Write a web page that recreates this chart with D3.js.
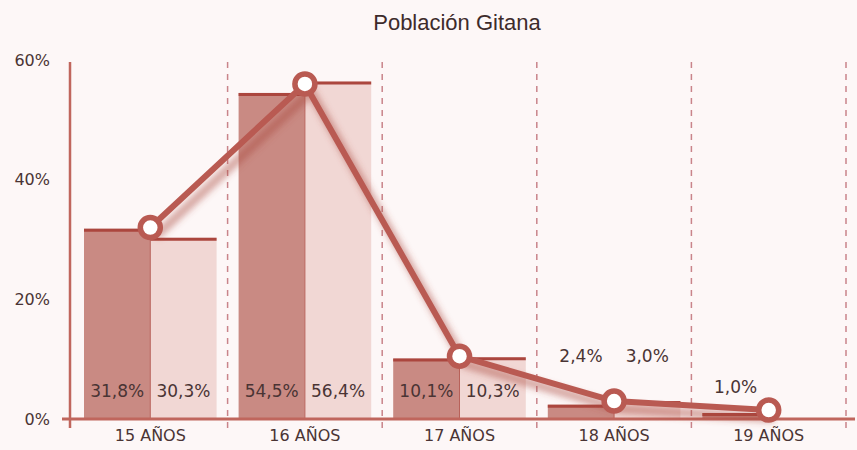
<!DOCTYPE html>
<html>
<head>
<meta charset="utf-8">
<script src="https://cdn.jsdelivr.net/npm/d3@7"></script>
<style>
  body { margin: 0; background: #fdf7f7; }
  svg { display: block; }
</style>
</head>
<body>
<div class="chart"></div>
<script>

// Data
//
var categorias = ["15 AÑOS", "16 AÑOS", "17 AÑOS", "18 AÑOS", "19 AÑOS"];
var serieA = [31.8, 54.5, 10.1, 2.4, 1.0];
var serieB = [30.3, 56.4, 10.3, 3.0, 0];
var etiquetasA = ["31,8%", "54,5%", "10,1%", "2,4%", "1,0%"];
var etiquetasB = ["30,3%", "56,4%", "10,3%", "3,0%", ""];
var linea = [32.0, 56.0, 10.5, 3.0, 1.5];
var ticks = [0, 20, 40, 60];

var width = 857,
    height = 450;

var svg = d3.select(".chart")
	.append("svg")
	.attr("width", width)
	.attr("height", height)

var defs = svg.append("defs")
defs.append("filter")
	.attr("id", "sombra")
	.attr("x", "-20%").attr("y", "-20%")
	.attr("width", "140%").attr("height", "140%")
	.append("feGaussianBlur")
	.attr("stdDeviation", 3)

var x = d3.scaleBand()
	.domain(categorias)
	.range([73, 846])
	.paddingInner(0)

var y = d3.scaleLinear()
	.domain([0, 60])
	.range([419, 60])

var darkFill = "#c98a83",
    lightFill = "#f1d7d4",
    edge = "#ab463e",
    axisColor = "#c0665d",
    lineColor = "#b95a52",
    textColor = "#4a3434";

// title
svg.append("text")
	.attr("x", 457)
	.attr("y", 30)
	.attr("text-anchor", "middle")
	.style("font-family", "Liberation Sans, Arial, sans-serif")
	.style("font-size", "22px")
	.attr("fill", "#3d2b2b")
	.text("Población Gitana")

// separators
svg.selectAll(".sep")
	.data(categorias)
	.enter().append("line")
	.attr("class", "sep")
	.attr("x1", function(d) { return x(d) + x.bandwidth(); })
	.attr("x2", function(d) { return x(d) + x.bandwidth(); })
	.attr("y1", 62)
	.attr("y2", 430)
	.attr("stroke", "#c9848a")
	.attr("stroke-width", 1.5)
	.attr("stroke-dasharray", "6,6")

var pad = 11;
var barW = (x.bandwidth() - 2 * pad) / 2;

var grupos = svg.selectAll(".grupo")
	.data(categorias)
	.enter().append("g")
	.attr("class", "grupo")
	.attr("transform", function(d) { return "translate(" + x(d) + ",0)"; })

function barras(vals, off, fill) {
	grupos.filter(function(d, i) { return vals[i] > 0; })
		.append("rect")
		.attr("x", off)
		.attr("width", barW)
		.attr("y", function(d) { return y(vals[categorias.indexOf(d)]); })
		.attr("height", function(d) { return y(0) - y(vals[categorias.indexOf(d)]); })
		.attr("fill", fill)
	grupos.filter(function(d, i) { return vals[i] > 0; })
		.append("line")
		.attr("x1", off)
		.attr("x2", off + barW)
		.attr("y1", function(d) { return y(vals[categorias.indexOf(d)]) + 1.5; })
		.attr("y2", function(d) { return y(vals[categorias.indexOf(d)]) + 1.5; })
		.attr("stroke", edge)
		.attr("stroke-width", 3)
}

barras(serieA, pad, darkFill)
barras(serieB, pad + barW, lightFill)

// thin divider between the pair
grupos.filter(function(d, i) { return serieB[i] > 0; })
	.append("line")
	.attr("x1", pad + barW).attr("x2", pad + barW)
	.attr("y1", function(d) { var i = categorias.indexOf(d); return y(Math.max(serieA[i], serieB[i])); })
	.attr("y2", y(0))
	.attr("stroke", "#b8625a")
	.attr("stroke-width", 1)

// value labels
var labFont = "DejaVu Sans, Verdana, sans-serif";

grupos.append("text")
	.attr("x", pad + barW / 2)
	.attr("y", function(d, i) { return serieA[i] > 5 ? 397 : (i == 3 ? 362 : 393); })
	.attr("text-anchor", "middle")
	.style("font-family", labFont)
	.style("font-size", "17px")
	.attr("fill", textColor)
	.text(function(d, i) { return etiquetasA[i]; })

grupos.append("text")
	.attr("x", pad + barW * 1.5)
	.attr("y", function(d, i) { return serieB[i] > 5 ? 397 : 362; })
	.attr("text-anchor", "middle")
	.style("font-family", labFont)
	.style("font-size", "17px")
	.attr("fill", textColor)
	.text(function(d, i) { return etiquetasB[i]; })

// axes
var yAxis = d3.axisLeft(y)
	.tickValues(ticks)
	.tickSize(0)
	.tickFormat(function(d) { return d + "%"; })

var gy = svg.append("g")
	.attr("transform", "translate(70,0)")
	.call(yAxis)
gy.select(".domain").remove()
gy.selectAll("text")
	.attr("x", -20)
	.style("font-family", labFont)
	.style("font-size", "16px")
	.attr("fill", textColor)

svg.append("line")
	.attr("x1", 70).attr("x2", 70)
	.attr("y1", 62).attr("y2", 428)
	.attr("stroke", axisColor)
	.attr("stroke-width", 2.5)

var xAxis = d3.axisBottom(x)
	.tickSize(0)

var gx = svg.append("g")
	.attr("transform", "translate(0," + y(0) + ")")
	.call(xAxis)
gx.select(".domain").remove()
gx.selectAll("text")
	.attr("y", 11)
	.style("font-family", labFont)
	.style("font-size", "16px")
	.attr("fill", textColor)

svg.append("line")
	.attr("x1", 62).attr("x2", 855)
	.attr("y1", y(0)).attr("y2", y(0))
	.attr("stroke", axisColor)
	.attr("stroke-width", 3)

// line series
var puntos = categorias.map(function(c, i) {
	return { x: x(c) + x.bandwidth() / 2, y: y(linea[i]) };
})

var path = d3.line()
	.x(function(d) { return d.x; })
	.y(function(d) { return d.y; })

svg.append("path")
	.datum(puntos)
	.attr("d", path)
	.attr("transform", "translate(6,8)")
	.attr("fill", "none")
	.attr("stroke", "#a8443c")
	.attr("stroke-opacity", 0.45)
	.attr("stroke-width", 9)
	.attr("filter", "url(#sombra)")

svg.append("path")
	.datum(puntos)
	.attr("d", path)
	.attr("fill", "none")
	.attr("stroke", lineColor)
	.attr("stroke-width", 6)
	.attr("stroke-linejoin", "round")

svg.selectAll(".punto")
	.data(puntos)
	.enter().append("circle")
	.attr("class", "punto")
	.attr("cx", function(d) { return d.x; })
	.attr("cy", function(d) { return d.y; })
	.attr("r", 10)
	.attr("fill", "#ffffff")
	.attr("stroke", lineColor)
	.attr("stroke-width", 5.5)

</script>
</body>
</html>
